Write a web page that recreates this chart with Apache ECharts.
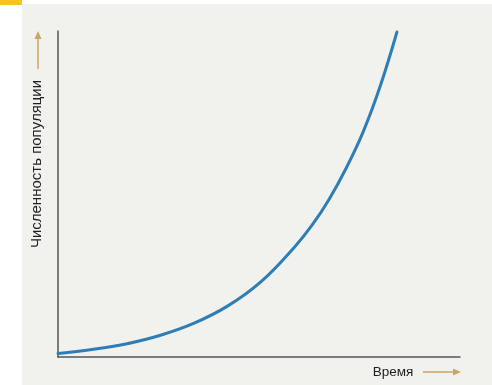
<!DOCTYPE html>
<html>
<head>
<meta charset="utf-8">
<script src="https://cdn.jsdelivr.net/npm/echarts@6/dist/echarts.min.js"></script>
<style>
  html, body { margin: 0; padding: 0; background: #fff; }
  #chart { width: 492px; height: 385px; }
</style>
</head>
<body>
<div id="chart"></div>
<script>
// values (arbitrary units, time 0..100, population 0..100)
const timeValues = [0, 10, 20, 30, 40, 50, 60, 70, 75, 80, 85, 90, 95, 100]
const populationValues = [1.1, 2.3, 4.0, 6.6, 10.3, 15.6, 23.2, 34.0, 40.5, 48.4, 57.9, 69.0, 82.9, 99.7]
const xAxisName = 'Время'
const yAxisName = 'Численность популяции'

const arrowColor = '#c9a56b'
const axisColor = '#555'
const textColor = '#1e1e1e'

const chart = echarts.init(document.getElementById('chart'))

chart.setOption({
  animation: false,
  backgroundColor: '#fff',
  grid: { left: 58, right: 32, top: 31, bottom: 28 },
  xAxis: {
    type: 'value',
    min: 0,
    max: 118.6,
    axisLine: { show: true, lineStyle: { color: axisColor, width: 1.5 } },
    axisTick: { show: false },
    axisLabel: { show: false },
    splitLine: { show: false }
  },
  yAxis: {
    type: 'value',
    min: 0,
    max: 100,
    axisLine: { show: true, lineStyle: { color: axisColor, width: 1.5 } },
    axisTick: { show: false },
    axisLabel: { show: false },
    splitLine: { show: false }
  },
  graphic: [
    // page of the scanned book
    { type: 'rect', z: -100, shape: { x: 22, y: 4, width: 470, height: 381 }, style: { fill: '#f1f1ee' } },
    { type: 'rect', z: -99, shape: { x: 0, y: 0, width: 22, height: 5 }, style: { fill: '#f6c51e' } },
    // y axis name + arrow
    {
      type: 'text',
      x: 37, y: 164,
      rotation: Math.PI / 2,
      style: {
        text: yAxisName,
        fill: textColor,
        font: '15px "Liberation Sans", Arial, sans-serif',
        align: 'center',
        verticalAlign: 'middle'
      }
    },
    { type: 'line', shape: { x1: 38, y1: 69, x2: 38, y2: 38 }, style: { stroke: arrowColor, lineWidth: 1.5 } },
    { type: 'polygon', shape: { points: [[38, 31], [34.5, 39], [41.5, 39]] }, style: { fill: arrowColor } },
    // x axis name + arrow
    {
      type: 'text',
      x: 393, y: 372,
      style: {
        text: xAxisName,
        fill: textColor,
        font: '13.5px "Liberation Sans", Arial, sans-serif',
        align: 'center',
        verticalAlign: 'middle'
      }
    },
    { type: 'line', shape: { x1: 423, y1: 372, x2: 454, y2: 372 }, style: { stroke: arrowColor, lineWidth: 1.5 } },
    { type: 'polygon', shape: { points: [[461, 372], [453, 368.5], [453, 375.5]] }, style: { fill: arrowColor } }
  ],
  series: [{
    type: 'line',
    data: timeValues.map((t, i) => [t, populationValues[i]]),
    smooth: 0.4,
    showSymbol: false,
    lineStyle: { color: '#2f7db5', width: 3, cap: 'round' }
  }]
})
</script>
</body>
</html>
